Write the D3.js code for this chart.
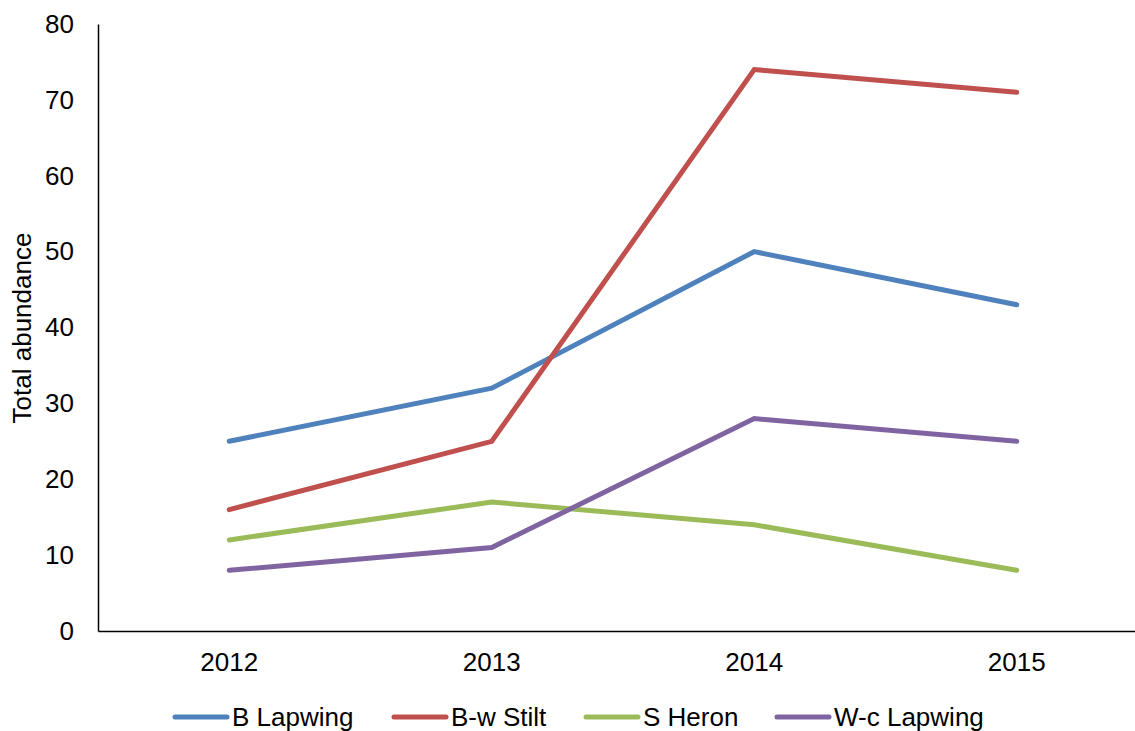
<!DOCTYPE html>
<html>
<head>
<meta charset="utf-8">
<script src="https://cdn.jsdelivr.net/npm/d3@7"></script>
<style>
  html, body { margin: 0; padding: 0; background: #fff; }
  svg { display: block; font-family: "Liberation Sans", Arial, sans-serif; }
</style>
</head>
<body>
<svg id="chart" width="1135" height="731"></svg>
<script>
const years = ["2012", "2013", "2014", "2015"];
const seriesNames = ["B Lapwing", "B-w Stilt", "S Heron", "W-c Lapwing"];
const bLapwing = [25, 32, 50, 43];
const bwStilt = [16, 25, 74, 71];
const sHeron = [12, 17, 14, 8];
const wcLapwing = [8, 11, 28, 25];
const yTicks = [0, 10, 20, 30, 40, 50, 60, 70, 80];
const colors = ["#4F81BD", "#C0504D", "#9BBB59", "#8064A2"];

(function () {
const FS = 26;
const series = [bLapwing, bwStilt, sHeron, wcLapwing].map((v, i) => ({ name: seriesNames[i], values: v, color: colors[i] }));

const svg = d3.select("#chart");
const mLeft = 98, mRight = 1148, mTop = 24, mBottom = 631;

const x = d3.scaleBand().domain(years).range([mLeft, mRight]);
const y = d3.scaleLinear().domain([0, 80]).range([mBottom, mTop]);

// y axis
const yAxis = svg.append("g").attr("transform", `translate(${mLeft},0)`)
  .call(d3.axisLeft(y).tickValues(yTicks).tickSize(0).tickPadding(24).tickFormat(d3.format("d")));
yAxis.attr("font-size", FS).attr("font-family", "Liberation Sans, Arial, sans-serif");
yAxis.select(".domain").attr("stroke", "#000").attr("stroke-width", 1.5);
yAxis.selectAll("text").attr("fill", "#000");

// x axis
const xAxis = svg.append("g").attr("transform", `translate(0,${mBottom})`)
  .call(d3.axisBottom(x).tickSize(0).tickPadding(22));
xAxis.attr("font-size", FS).attr("font-family", "Liberation Sans, Arial, sans-serif");
xAxis.select(".domain").attr("stroke", "#000").attr("stroke-width", 1.5);
xAxis.selectAll("text").attr("fill", "#000");

// y title
svg.append("text")
  .attr("transform", `translate(31,328) rotate(-90)`)
  .attr("text-anchor", "middle")
  .attr("font-size", FS)
  .text("Total abundance");

// lines
const line = d3.line()
  .x((d, i) => x(years[i]) + x.bandwidth() / 2)
  .y(d => y(d));

svg.append("g").selectAll("path").data(series).join("path")
  .attr("d", d => line(d.values))
  .attr("fill", "none")
  .attr("stroke", d => d.color)
  .attr("stroke-width", 5)
  .attr("stroke-linecap", "round")
  .attr("stroke-linejoin", "miter");

// legend
const legendX = [174, 393, 585, 776];
const legend = svg.append("g").selectAll("g").data(series).join("g")
  .attr("transform", (d, i) => `translate(${legendX[i]},717)`);
legend.append("line")
  .attr("x1", 1).attr("x2", 53).attr("y1", 0).attr("y2", 0)
  .attr("stroke", d => d.color).attr("stroke-width", 5).attr("stroke-linecap", "round");
legend.append("text")
  .attr("x", 58).attr("y", 9)
  .attr("font-size", FS)
  .text(d => d.name);
})();
</script>
</body>
</html>
